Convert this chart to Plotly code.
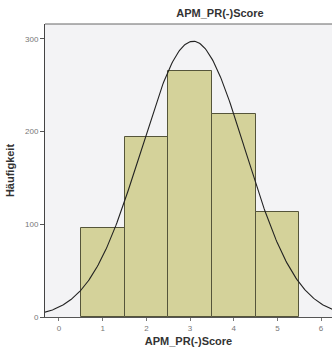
import numpy as np
import plotly.graph_objects as go

# Data
categories = [1, 2, 3, 4, 5]
counts = [96, 194, 265, 219, 113]
x_ticks = [0, 1, 2, 3, 4, 5, 6]
y_ticks = [0, 100, 200, 300]
y_tick_labels = ["0", "100", "200", "300"]

# Fitted normal curve parameters (SPSS overlay)
N = sum(counts)
MEAN = 3.07
SD = 1.19
BIN_WIDTH = 1.0

xs = np.linspace(-0.4, 6.4, 300)
ys = N * BIN_WIDTH / (SD * np.sqrt(2 * np.pi)) * np.exp(-((xs - MEAN) ** 2) / (2 * SD ** 2))

fig = go.Figure()
fig.add_trace(go.Bar(
    x=categories, y=counts, width=1.0,
    marker=dict(color="#d4d29a", line=dict(color="#55553a", width=1)),
    showlegend=False, hoverinfo="skip",
))
fig.add_trace(go.Scatter(
    x=xs, y=ys, mode="lines", line=dict(color="#222222", width=1.1),
    showlegend=False, hoverinfo="skip",
))

font = "Liberation Sans, Arial, sans-serif"
fig.update_layout(
    width=332, height=351,
    margin=dict(l=45, r=0, t=24, b=34),
    paper_bgcolor="white",
    plot_bgcolor="#f3f3f5",
    bargap=0,
    title=dict(text="<b>APM_PR(-)Score</b>", x=220 / 332, xanchor="center",
               y=1 - 13 / 351, yanchor="middle",
               font=dict(family=font, size=11, color="#333333")),
    xaxis=dict(range=[-0.32, 6.25], tickvals=x_ticks, ticktext=[str(v) for v in x_ticks],
               showgrid=False, zeroline=False, showline=True, linecolor="#555555",
               linewidth=1, ticks="outside", ticklen=3, tickcolor="#777777",
               tickfont=dict(family=font, size=8, color="#777777"),
               title=dict(text="<b>APM_PR(-)Score</b>", standoff=5,
                          font=dict(family=font, size=11, color="#333333"))),
    yaxis=dict(range=[0, 316], tickvals=y_ticks, ticktext=y_tick_labels,
               showgrid=False, zeroline=False, showline=True, linecolor="#444444",
               linewidth=1, ticks="outside", ticklen=4, tickcolor="#555555",
               tickfont=dict(family=font, size=8, color="#777777"),
               title=dict(text="<b>Häufigkeit</b>", standoff=8,
                          font=dict(family=font, size=11, color="#333333"))),
    shapes=[dict(type="line", xref="paper", yref="paper", x0=0, x1=1, y0=1, y1=1,
                 line=dict(color="#666666", width=1))],
)

fig.write_html("out.html")
